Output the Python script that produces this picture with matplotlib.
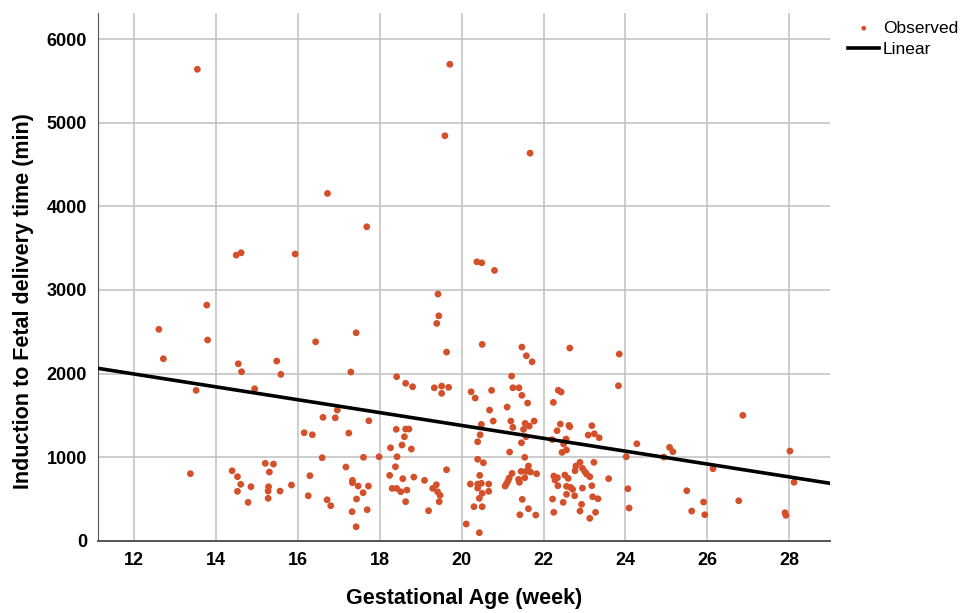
import numpy as np
import matplotlib
matplotlib.use("Agg")
import matplotlib.pyplot as plt

# gestational age (week) / induction-to-delivery time (min)
age = [13.54, 19.71, 19.59, 16.72, 17.68, 14.49, 14.61, 15.93, 20.37, 20.49, 20.80, 19.42, 21.67,
       12.60, 12.71, 13.77, 13.79, 13.51, 13.37, 14.54, 14.62, 14.94, 15.48, 15.58, 16.43, 17.42,
       17.29, 18.41, 18.63, 18.80, 19.44, 19.39, 19.63, 19.33, 19.51, 19.68, 19.51, 20.23, 20.33,
       16.96, 16.61, 16.91, 17.73, 16.15, 16.35, 17.24, 18.40, 18.63, 18.71, 18.60, 18.54, 18.77,
       18.26, 18.42, 17.98, 17.60, 16.59, 17.17, 18.38, 18.24, 18.56, 18.83, 19.09, 16.29, 16.25,
       16.71, 16.80, 17.33, 17.33, 17.47, 17.72, 17.59, 17.43, 17.69, 17.32, 17.42, 14.39, 14.52,
       14.60, 14.52, 14.85, 14.78, 15.20, 15.40, 15.30, 15.28, 15.27, 15.27, 15.56, 15.84, 18.30,
       18.41, 18.51, 18.66, 18.63, 19.19, 19.29, 19.38, 19.41, 19.47, 19.45, 19.63, 20.11,
       20.50, 21.47, 21.58, 21.72, 21.22, 21.25, 21.40, 21.47, 21.61, 20.73, 21.11, 20.68, 22.24,
       22.36, 22.43,
       20.77, 20.48, 21.20, 21.25, 21.55, 21.65, 21.77, 21.51, 21.57, 21.46, 20.45, 20.39, 21.17,
       20.39, 20.53, 21.54, 21.63, 21.45, 21.57, 21.68, 21.83, 21.54, 21.23, 21.39, 21.41, 21.16,
       21.13, 21.09, 21.06, 20.44, 20.21, 20.39, 20.48, 20.39, 20.66, 20.66, 20.50, 20.43, 20.30,
       20.50, 20.43, 21.48, 21.63, 21.42, 21.81,
       22.21, 22.41, 22.33, 22.62, 22.64, 22.55, 22.49, 22.45, 22.56, 23.18, 23.09, 23.24, 23.36,
       24.28, 24.02, 22.89, 22.79, 22.95, 22.77, 23.01, 23.05, 23.13, 23.23, 23.59, 22.25, 22.34,
       22.28, 22.52, 22.60, 22.35, 22.56, 22.66, 22.71, 22.95, 23.18, 22.56, 22.76, 23.20, 23.33,
       22.22, 22.48, 22.93, 22.25, 22.89, 23.27, 23.13, 24.06, 24.09,
       22.64, 23.85, 23.83,
       25.08, 25.16, 24.94, 25.50, 25.62, 25.91, 25.94, 26.14, 26.87, 26.77, 28.02, 28.12, 27.90,
       27.92]
minutes = [5640, 5700, 4845, 4155, 3756, 3417, 3445, 3430, 3337, 3325, 3234, 2951, 4637,
           2529, 2177, 2819, 2401, 1799, 802, 2117, 2022, 1818, 2150, 1990, 2380, 2488,
           2018, 1962, 1883, 1842, 2691, 2600, 2257, 1830, 1850, 1835, 1763, 1782, 1707,
           1563, 1476, 1471, 1435, 1292, 1268, 1288, 1333, 1336, 1336, 1244, 1145, 1097,
           1112, 1005, 1005, 998, 993, 882, 885, 782, 742, 762, 722, 778, 538,
           490, 419, 722, 694, 654, 654, 574, 499, 371, 347, 167, 837, 766,
           675, 591, 646, 459, 926, 917, 822, 646, 594, 507, 594, 666, 626,
           626, 586, 606, 467, 359, 626, 670, 586, 543, 467, 849, 200,
           2349, 2317, 2213, 2141, 1970, 1830, 1830, 1739, 1647, 1799, 1599, 1563, 1655,
           1800, 1779,
           1432, 1392, 1432, 1356, 1404, 1372, 1432, 1332, 1244, 1172, 1268, 1184, 1061,
           974, 933, 998, 894, 830, 830, 822, 801, 754, 806, 734, 699, 750,
           714, 678, 654, 782, 678, 678, 687, 630, 678, 591, 567, 507, 407,
           407, 96, 495, 383, 311, 307,
           1210, 1396, 1316, 1380, 1364, 1217, 1157, 1057, 1085, 1376, 1264, 1280, 1232,
           1160, 1005, 938, 894, 866, 837, 825, 798, 766, 938, 742, 774, 754,
           726, 786, 746, 658, 651, 639, 615, 630, 658, 555, 538, 526, 502,
           499, 459, 435, 340, 355, 340, 268, 622, 391,
           2305, 2233, 1854,
           1117, 1065, 1001, 598, 355, 463, 311, 861, 1500, 478, 1073, 699, 335,
           304]

# linear fit shown in the chart
fit_intercept = 2917
fit_slope = -76.9

x_ticks = [12, 14, 16, 18, 20, 22, 24, 26, 28]
y_ticks = [0, 1000, 2000, 3000, 4000, 5000, 6000]

plt.rcParams['font.family'] = ['Liberation Sans', 'DejaVu Sans']

fig = plt.figure(figsize=(9.62, 6.13), dpi=100)
ax = fig.add_axes([0.1022, 0.1179, 0.7606, 0.8604])

ax.set_xlim(11.12, 29.0)
ax.set_ylim(0, 6310)

ax.set_axisbelow(True)
ax.grid(True, color='#c0c0c0', linewidth=1.1)

ax.scatter(age, minutes, s=24, color='#d4502a', edgecolors='none', zorder=3, label='Observed')

xs = np.array(ax.get_xlim())
ax.plot(xs, fit_intercept + fit_slope * xs, color='black', linewidth=2.6, zorder=4, label='Linear')

for side in ['top', 'right']:
    ax.spines[side].set_visible(False)
ax.spines['left'].set_color('#555555')
ax.spines['bottom'].set_color('#555555')
ax.spines['bottom'].set_linewidth(1.4)

ax.set_xticks(x_ticks)
ax.set_yticks(y_ticks)
ax.tick_params(length=0, labelsize=13, pad=8)
for lab in ax.get_xticklabels() + ax.get_yticklabels():
    lab.set_fontweight('bold')

ax.set_xlabel('Gestational Age (week)', fontsize=15.5, fontweight='bold')
ax.set_ylabel('Induction to Fetal delivery time (min)', fontsize=15.5, fontweight='bold')
ax.xaxis.set_label_coords(0.5, -0.09)
ax.yaxis.set_label_coords(-0.088, 0.455)

h, l = ax.get_legend_handles_labels()
fig.legend(h, l, loc='upper left', bbox_to_anchor=(0.878, 0.972), frameon=False,
           fontsize=12.5, handlelength=1.8, handletextpad=0.2, labelspacing=0.35,
           markerscale=0.7, borderpad=0.2, borderaxespad=0.0)

plt.savefig('out.png', dpi=100)
